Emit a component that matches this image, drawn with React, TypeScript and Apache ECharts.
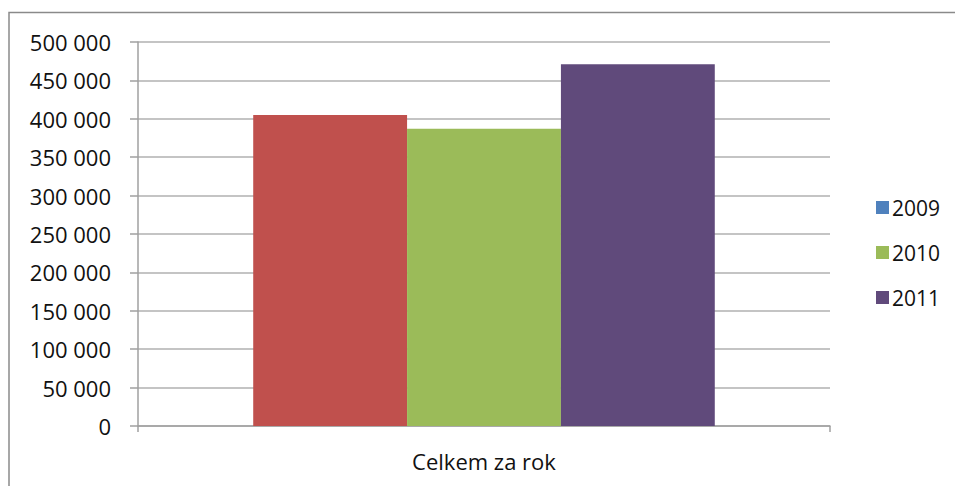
import React, { useEffect, useRef } from "react";
import * as echarts from "echarts";

const categories = ["Celkem za rok"];
const seriesNames = ["2009", "2010", "2011"];
const values2009 = [405000];
const values2010 = [387000];
const values2011 = [471000];
const barColors = ["#C0504D", "#9BBB59", "#604A7B"];
const legendColors = ["#4F81BD", "#9BBB59", "#604A7B"];

export default function App() {
  const ref = useRef<HTMLDivElement>(null);
  useEffect(() => {
    if (!ref.current) return;
    const chart = echarts.init(ref.current, null, { renderer: "svg" });
    const font = "'Open Sans', sans-serif";
    const dataSets = [values2009, values2010, values2011];
    chart.setOption({
      animation: false,
      backgroundColor: "#ffffff",
      textStyle: { fontFamily: font },
      graphic: [
        {
          type: "rect",
          shape: { x: 9, y: 12.5, width: 980, height: 520 },
          style: { fill: "none", stroke: "#8a8a8a", lineWidth: 1.5 },
          silent: true,
        },
      ],
      grid: { left: 138, right: 125, top: 42, bottom: 60 },
      legend: {
        orient: "vertical",
        left: 871,
        top: 192,
        itemWidth: 13,
        itemHeight: 13,
        itemGap: 24,
        icon: "rect",
        textStyle: { fontFamily: font, fontSize: 21, color: "#111111", padding: [0, 0, 0, -2] },
        data: seriesNames.map((n, i) => ({ name: n, itemStyle: { color: legendColors[i] } })),
      },
      xAxis: {
        type: "category",
        data: categories,
        axisLine: { lineStyle: { color: "#a0a0a0", width: 1.5 } },
        axisTick: { show: true, length: 6, lineStyle: { color: "#a0a0a0", width: 1.5 } },
        axisLabel: { margin: 24, fontSize: 22, color: "#111111", fontFamily: font },
      },
      yAxis: {
        type: "value",
        min: 0,
        max: 500000,
        interval: 50000,
        axisLine: { show: true, lineStyle: { color: "#a0a0a0", width: 1.5 } },
        axisTick: { show: true, length: 8, lineStyle: { color: "#a0a0a0", width: 1.5 } },
        splitLine: { lineStyle: { color: "#b0b0b0", width: 1.5 } },
        axisLabel: {
          margin: 27,
          fontSize: 22,
          color: "#111111",
          fontFamily: font,
          formatter: (v: number) => {
            const s = String(v);
            return s.replace(/\B(?=(\d{3})+(?!\d))/g, " ");
          },
        },
      },
      series: seriesNames.map((n, i) => ({
        name: n,
        type: "bar",
        data: dataSets[i],
        barGap: "0%",
        barCategoryGap: "33.3%",
        itemStyle: { color: barColors[i] },
      })),
    });
    return () => chart.dispose();
  }, []);
  return (
    <div
      ref={ref}
      style={{ position: "fixed", left: 0, top: 0, width: 955, height: 486 }}
    />
  );
}
